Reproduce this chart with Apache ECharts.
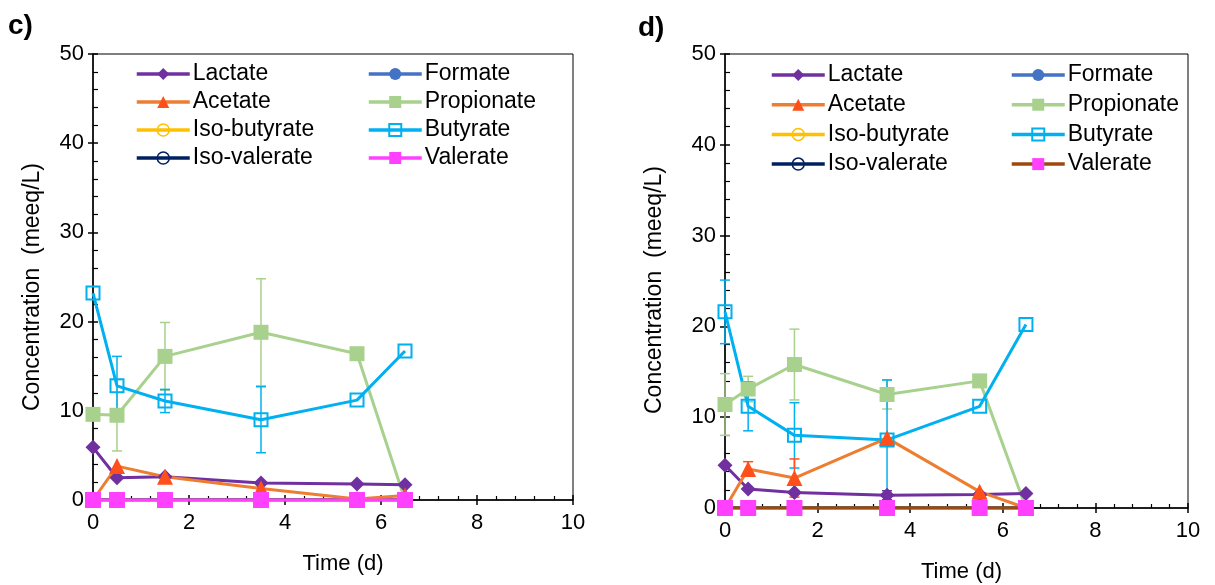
<!DOCTYPE html>
<html><head><meta charset="utf-8">
<script src="https://cdn.jsdelivr.net/npm/echarts@6/dist/echarts.min.js"></script>
<style>html,body{margin:0;padding:0;background:#fff}#c{width:1215px;height:585px}</style>
</head><body><div id="c"></div>
<script>
const times = [0, 0.5, 1.5, 3.5, 5.5, 6.5];
const names = ['Lactate','Formate','Acetate','Propionate','Iso-butyrate','Butyrate','Iso-valerate','Valerate'];
// panel c
const cLactate = [5.9, 2.5, 2.6, 1.9, 1.8, 1.7];
const cFormate = [0, 0, 0, 0, 0, 0];
const cAcetate = [0, 3.8, 2.6, 1.3, 0.1, 0.5];
const cPropionate = [9.6, 9.5, 16.1, 18.8, 16.4, 0];
const cIsobutyrate = [0, 0, 0, 0, 0, 0];
const cButyrate = [23.2, 12.8, 11.1, 9.0, 11.2, 16.7];
const cIsovalerate = [0, 0, 0, 0, 0, 0];
const cValerate = [0, 0, 0, 0, 0, 0];
const cPropionateErr = [0, 4.0, 3.8, 6.0, 0, 0];
const cButyrateErr = [0, 3.3, 1.3, 3.7, 0, 0];
// panel d
const dLactate = [4.7, 2.1, 1.7, 1.4, 1.5, 1.6];
const dFormate = [0, 0, 0, 0, 0, 0];
const dAcetate = [0, 4.3, 3.3, 7.7, 1.8, 0];
const dPropionate = [11.4, 13.1, 15.8, 12.5, 14.0, 0];
const dIsobutyrate = [0, 0, 0, 0, 0, 0];
const dButyrate = [21.6, 11.2, 8.0, 7.5, 11.2, 20.2];
const dIsovalerate = [0, 0, 0, 0, 0, 0];
const dValerate = [0, 0, 0, 0, 0, 0];
const dLactateErr = [0, 0, 0, 0.5, 0, 0];
const dAcetateErr = [0, 0.8, 2.1, 0, 0, 0];
const dPropionateErr = [3.4, 1.4, 3.9, 1.6, 0, 0];
const dButyrateErr = [3.5, 2.7, 3.6, 6.6, 0, 0];
const xTicks = [0, 2, 4, 6, 8, 10];
const yTicks = [0, 10, 20, 30, 40, 50];

const FONT = 'Liberation Sans, Arial, sans-serif';
const chart = echarts.init(document.getElementById('c'));

function pairs(vals){ return times.map((t,i)=>[t, vals[i]]); }

function styleFor(name, valerateLine){
  switch(name){
    case 'Lactate': return {symbol:'diamond', symbolSize:15, item:{color:'#7030A0'}, line:'#7030A0'};
    case 'Formate': return {symbol:'circle', symbolSize:13, item:{color:'#4472C4'}, line:'#4472C4'};
    case 'Acetate': return {symbol:'triangle', symbolSize:16, item:{color:'#FF4F1A'}, line:'#ED7D31'};
    case 'Propionate': return {symbol:'rect', symbolSize:15, item:{color:'#A9D18E'}, line:'#A9D18E'};
    case 'Iso-butyrate': return {symbol:'circle', symbolSize:12, item:{color:'rgba(255,255,255,0)', borderColor:'#FFC000', borderWidth:1.5}, line:'#FFC000'};
    case 'Butyrate': return {symbol:'rect', symbolSize:13, item:{color:'rgba(255,255,255,0)', borderColor:'#00B0F0', borderWidth:2}, line:'#00B0F0'};
    case 'Iso-valerate': return {symbol:'circle', symbolSize:12, item:{color:'rgba(255,255,255,0)', borderColor:'#002060', borderWidth:1.5}, line:'#002060'};
    case 'Valerate': return {symbol:'rect', symbolSize:16, item:{color:'#FF40FF'}, line:valerateLine};
  }
}

function lineSeries(gi, name, vals, valerateLine){
  const s = styleFor(name, valerateLine);
  return {
    type:'line', name:name, xAxisIndex:gi*2, yAxisIndex:gi*2,
    data:pairs(vals), symbol:s.symbol, symbolSize:s.symbolSize,
    showAllSymbol:true, itemStyle:Object.assign({opacity:1}, s.item),
    lineStyle:{color:s.line, width:3}, emphasis:{disabled:true},
    z:3, animation:false
  };
}

function errSeries(gi, vals, errs, color){
  const d = [];
  times.forEach((t,i)=>{ if(errs[i]>0) d.push([t, vals[i]-errs[i], vals[i]+errs[i]]); });
  return {
    type:'custom', xAxisIndex:gi*2, yAxisIndex:gi*2, data:d, z:2, silent:true, animation:false,
    renderItem:function(params, api){
      const x = api.value(0);
      const lo = api.coord([x, api.value(1)]);
      const hi = api.coord([x, api.value(2)]);
      const w = 5;
      const st = {stroke:color, lineWidth:1.5};
      return {type:'group', children:[
        {type:'line', shape:{x1:lo[0], y1:lo[1], x2:hi[0], y2:hi[1]}, style:st},
        {type:'line', shape:{x1:lo[0]-w, y1:lo[1], x2:lo[0]+w, y2:lo[1]}, style:st},
        {type:'line', shape:{x1:hi[0]-w, y1:hi[1], x2:hi[0]+w, y2:hi[1]}, style:st}
      ]};
    }
  };
}

const grids = [
  {left:93, right:1215-573, top:54, bottom:585-500, show:true, borderColor:'#000', borderWidth:1, containLabel:false, outerBoundsMode:'none'},
  {left:725, right:1215-1188, top:54, bottom:585-508, show:true, borderColor:'#000', borderWidth:1, containLabel:false, outerBoundsMode:'none'}
];

const xAxes = [], yAxes = [];
[0,1].forEach(gi=>{
  xAxes.push({
    type:'value', gridIndex:gi, min:0, max:10, interval:2,
    axisLine:{show:true, onZero:false, lineStyle:{color:'#000', width:1.5}},
    axisTick:{show:true, length:5, lineStyle:{color:'#000', width:1.5}},
    minorTick:{show:true, splitNumber:5, length:-4, lineStyle:{color:'#000', width:1.2}},
    splitLine:{show:false},
    axisLabel:{color:'#000', fontSize:22, fontFamily:FONT, margin:12, formatter:v=> xTicks.includes(v)? String(v):''},
    name:'Time (d)', nameLocation:'middle', nameGap: gi===0? 53 : 53,
    nameTextStyle:{color:'#000', fontSize:22, fontFamily:FONT, padding: gi===0? [0,0,0,20] : [0,0,0,10]}
  });
  xAxes.push({
    type:'value', gridIndex:gi, min:0, max:10, interval:2, position:'bottom',
    axisLine:{show:false}, axisTick:{show:true, inside:true, length:5, lineStyle:{color:'#000', width:1.5}},
    axisLabel:{show:false}, splitLine:{show:false}
  });
  yAxes.push({
    type:'value', gridIndex:gi, min:0, max:50, interval:10,
    axisLine:{show:true, lineStyle:{color:'#000', width:1.5}},
    axisTick:{show:true, length:5, lineStyle:{color:'#000', width:1.5}},
    minorTick:{show:true, splitNumber:5, length:-5, lineStyle:{color:'#000', width:1.2}},
    splitLine:{show:false},
    axisLabel:{color:'#000', fontSize:22, fontFamily:FONT, margin:9, formatter:v=> yTicks.includes(v)? String(v):''}
  });
  yAxes.push({
    type:'value', gridIndex:gi, min:0, max:50, interval:10, position:'left',
    axisLine:{show:false}, axisTick:{show:true, inside:true, length:5, lineStyle:{color:'#000', width:1.5}},
    axisLabel:{show:false}, splitLine:{show:false}
  });
});

const cSets = {'Lactate':cLactate,'Formate':cFormate,'Acetate':cAcetate,'Propionate':cPropionate,'Iso-butyrate':cIsobutyrate,'Butyrate':cButyrate,'Iso-valerate':cIsovalerate,'Valerate':cValerate};
const dSets = {'Lactate':dLactate,'Formate':dFormate,'Acetate':dAcetate,'Propionate':dPropionate,'Iso-butyrate':dIsobutyrate,'Butyrate':dButyrate,'Iso-valerate':dIsovalerate,'Valerate':dValerate};

const series = [];
series.push(errSeries(0, cPropionate, cPropionateErr, '#A9D18E'));
series.push(errSeries(0, cButyrate, cButyrateErr, '#00B0F0'));
series.push(errSeries(1, dPropionate, dPropionateErr, '#A9D18E'));
series.push(errSeries(1, dButyrate, dButyrateErr, '#00B0F0'));
series.push(errSeries(1, dAcetate, dAcetateErr, '#FF4F1A'));
series.push(errSeries(1, dLactate, dLactateErr, '#7030A0'));
const order = ['Formate','Iso-butyrate','Iso-valerate','Propionate','Butyrate','Lactate','Acetate','Valerate'];
order.forEach(n=>{ series.push(Object.assign(lineSeries(0, n, cSets[n], '#FF40FF'), {id:'c-'+n})); });
order.forEach(n=>{ series.push(Object.assign(lineSeries(1, n, dSets[n], '#9E480E'), {id:'d-'+n})); });

const col1 = ['Lactate','Acetate','Iso-butyrate','Iso-valerate'];
const col2 = ['Formate','Propionate','Butyrate','Valerate'];
function legendItems(list, valerateLine){
  return list.map(n=>{
    const s = styleFor(n, valerateLine);
    return {name:n, lineStyle:{color:s.line, width:3.5}, itemStyle:Object.assign({}, s.item)};
  });
}
function legend(left, top, list, gap, valerateLine){
  return {left:left, top:top, orient:'vertical', data:legendItems(list, valerateLine), itemWidth:53, itemHeight:15, itemGap:gap,
    selectedMode:false, textStyle:{color:'#000', fontSize:23, fontFamily:FONT, lineHeight:24, padding:[0,0,0,-2]}, padding:0};
}

chart.setOption({
  animation:false,
  grid:grids, xAxis:xAxes, yAxis:yAxes, series:series,
  legend:[
    legend(135, 62, col1, 4, '#FF40FF'), legend(367, 62, col2, 4, '#FF40FF'),
    legend(770, 63, col1, 5.7, '#9E480E'), legend(1010, 63, col2, 5.7, '#9E480E')
  ],
  graphic:[
    {type:'text', left:8, top:12, style:{text:'c)', font:'bold 28px '+FONT, fill:'#000'}},
    {type:'text', left:638, top:14, style:{text:'d)', font:'bold 28px '+FONT, fill:'#000'}},
    {type:'text', x:33, y:287, rotation:Math.PI/2, style:{text:'Concentration  (meeq/L)', font:'23px '+FONT, fill:'#000', align:'center', verticalAlign:'middle'}},
    {type:'text', x:655, y:290, rotation:Math.PI/2, style:{text:'Concentration  (meeq/L)', font:'23px '+FONT, fill:'#000', align:'center', verticalAlign:'middle'}}
  ]
});
</script></body></html>
